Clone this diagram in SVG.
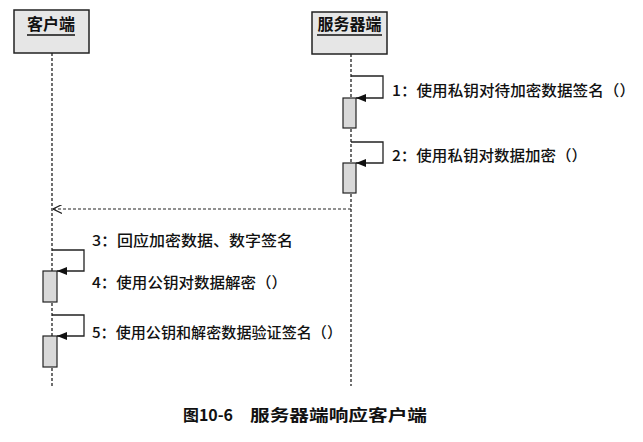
<svg xmlns="http://www.w3.org/2000/svg" width="643" height="442" viewBox="0 0 643 442">
<defs>
<style>
.head{fill:#e6e6e6;stroke:#222;stroke-width:1.5}
.act{fill:#d9d9d9;stroke:#222;stroke-width:1.2}
.life{stroke:#222;stroke-width:1.3;stroke-dasharray:3 2;fill:none}
.msg{stroke:#222;stroke-width:1.3;fill:none}
.ret{stroke:#222;stroke-width:1.2;stroke-dasharray:3 2;fill:none}
.t{font-family:"Noto Sans CJK SC","Noto Sans",sans-serif;fill:#111}
.title{font-size:16px;font-weight:bold}
.lbl{font-size:15px;font-weight:500}
.cap{font-size:16px;font-weight:bold}
</style>
<marker id="fill" viewBox="0 0 10 8" refX="10" refY="4" markerWidth="10" markerHeight="8" markerUnits="userSpaceOnUse" orient="auto">
<path d="M0,0 L10,4 L0,8 z" fill="#111"/>
</marker>
<marker id="open" viewBox="0 0 10 10" refX="10" refY="5" markerWidth="9" markerHeight="9" markerUnits="userSpaceOnUse" orient="auto">
<path d="M0,0 L10,5 L0,10" fill="none" stroke="#222" stroke-width="1.3"/>
</marker>
</defs>
<rect width="643" height="442" fill="#fff"/>
<g id="client">
<rect class="head" x="14" y="10" width="75" height="43"/>
<text class="t title" x="51" y="30" text-anchor="middle">客户端</text>
<line x1="27" y1="35" x2="75" y2="35" stroke="#111" stroke-width="1.3"/>
<line class="life" x1="52" y1="53" x2="52" y2="386"/>
<rect class="act" x="43" y="271" width="14" height="31"/>
<rect class="act" x="43" y="336" width="14" height="31"/>
</g>
<g id="server">
<rect class="head" x="312" y="12" width="75" height="42"/>
<text class="t title" x="349.5" y="30" text-anchor="middle">服务器端</text>
<line x1="317" y1="35" x2="382" y2="35" stroke="#111" stroke-width="1.3"/>
<line class="life" x1="351" y1="54" x2="351" y2="386"/>
<rect class="act" x="343" y="98" width="13" height="30"/>
<rect class="act" x="343" y="163" width="13" height="30"/>
</g>
<g id="connectors">
<polyline class="msg" points="351,76 383,76 383,98 356,98" marker-end="url(#fill)"/>
<polyline class="msg" points="351,142 383,142 383,163 356,163" marker-end="url(#fill)"/>
<line class="ret" x1="351" y1="209" x2="53" y2="209" marker-end="url(#open)"/>
<polyline class="msg" points="52,250 84,250 84,271 57,271" marker-end="url(#fill)"/>
<polyline class="msg" points="52,315 84,315 84,336 57,336" marker-end="url(#fill)"/>
</g>
<g id="labels">
<text class="t lbl" x="392" y="96" textLength="243" lengthAdjust="spacingAndGlyphs">1：使用私钥对待加密数据签名（）</text>
<text class="t lbl" x="392" y="161" textLength="195" lengthAdjust="spacingAndGlyphs">2：使用私钥对数据加密（）</text>
<text class="t lbl" x="92" y="246" textLength="201" lengthAdjust="spacingAndGlyphs">3：回应加密数据、数字签名</text>
<text class="t lbl" x="92" y="288" textLength="195" lengthAdjust="spacingAndGlyphs">4：使用公钥对数据解密（）</text>
<text class="t lbl" x="92" y="338" textLength="250" lengthAdjust="spacingAndGlyphs">5：使用公钥和解密数据验证签名（）</text>
</g>
<g id="caption">
<text class="t cap" x="183" y="421" textLength="50" lengthAdjust="spacingAndGlyphs">图10-6</text>
<text class="t cap" x="250" y="421" textLength="177" lengthAdjust="spacingAndGlyphs">服务器端响应客户端</text>
</g>
</svg>
